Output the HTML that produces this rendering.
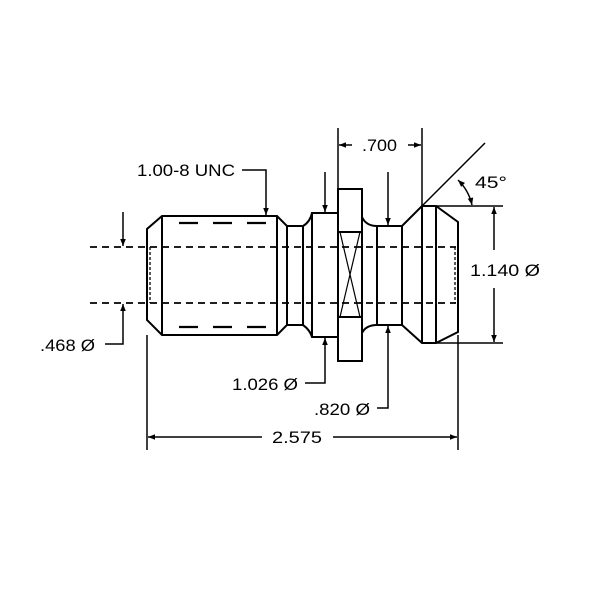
<!DOCTYPE html>
<html><head><style>body{margin:0;background:#fff}svg{display:block}text{font-family:"Liberation Sans",Arial,sans-serif;font-size:17px;fill:#000}</style></head><body>
<svg width="600" height="600" viewBox="0 0 600 600" xmlns="http://www.w3.org/2000/svg">
<defs><marker id="a" viewBox="0 0 10 10" refX="10" refY="5" markerWidth="9" markerHeight="7" orient="auto-start-reverse" markerUnits="userSpaceOnUse"><path d="M0,1L10,5L0,9z" fill="#000"/></marker></defs>
<g fill="none" stroke="#000" stroke-width="2">
<path d="M162,216 H277 L287,226 V325 L277,335 H162 L147,320 V229 Z"/>
<line x1="162" y1="216" x2="162" y2="335"/>
<line x1="277" y1="216" x2="277" y2="335"/>
<path d="M287,226 H303 V325 H287"/>
<path d="M303,226 Q310,222 312,213 H338 V337 H312 Q310,330 303,325"/>
<line x1="312" y1="213" x2="312" y2="337"/>
<rect x="338" y="189" width="24" height="172"/>
<line x1="338" y1="232" x2="362" y2="232"/>
<line x1="338" y1="317" x2="362" y2="317"/>
<path d="M362,217 Q366,226 377,226 H402 L422,206 H436 L458,222 V332 L436,343 H422 L402,325 H377 Q366,325 362,333"/>
<line x1="377" y1="226" x2="377" y2="325"/>
<line x1="402" y1="226" x2="402" y2="325"/>
<line x1="422" y1="206" x2="422" y2="343"/>
<line x1="436" y1="206" x2="436" y2="343"/>
</g>
<g fill="none" stroke="#000" stroke-width="1.2">
<line x1="340" y1="232" x2="360" y2="317"/><line x1="360" y1="232" x2="340" y2="317"/>
</g>
<g stroke="#000" stroke-width="1.8" stroke-dasharray="7,5">
<line x1="90" y1="247" x2="456" y2="247"/>
<line x1="90" y1="303" x2="456" y2="303"/>
</g>
<g stroke="#000" stroke-width="1.3" stroke-dasharray="3,2">
<line x1="150" y1="247" x2="150" y2="303"/>
<line x1="455" y1="247" x2="455" y2="303"/>
</g>
<g stroke="#000" stroke-width="2.2">
<line x1="179" y1="223" x2="198" y2="223"/><line x1="213" y1="223" x2="232" y2="223"/><line x1="247" y1="223" x2="266" y2="223"/>
<line x1="179" y1="327" x2="198" y2="327"/><line x1="213" y1="327" x2="232" y2="327"/><line x1="247" y1="327" x2="266" y2="327"/>
</g>
<g fill="none" stroke="#000" stroke-width="1.5">
<polyline points="242,170 266,170 266,215" marker-end="url(#a)"/>
<line x1="325" y1="172" x2="325" y2="212" marker-end="url(#a)"/>
<line x1="123" y1="212" x2="123" y2="246" marker-end="url(#a)"/>
<polyline points="105,344 123,344 123,304" marker-end="url(#a)"/>
<polyline points="305,383 325,383 325,338" marker-end="url(#a)"/>
<polyline points="377,408 388,408 388,326" marker-end="url(#a)"/>
<line x1="388" y1="172" x2="388" y2="225" marker-end="url(#a)"/>
<line x1="147" y1="335" x2="147" y2="450"/>
<line x1="458" y1="335" x2="458" y2="450"/>
<line x1="262" y1="437" x2="148" y2="437" marker-end="url(#a)"/>
<line x1="333" y1="437" x2="457" y2="437" marker-end="url(#a)"/>
<line x1="338" y1="128" x2="338" y2="189"/>
<line x1="422" y1="128" x2="422" y2="206"/>
<line x1="352" y1="145" x2="339" y2="145" marker-end="url(#a)"/>
<line x1="408" y1="145" x2="421" y2="145" marker-end="url(#a)"/>
<line x1="422" y1="206" x2="485" y2="143"/>
<line x1="436" y1="206" x2="503" y2="206"/>
<line x1="436" y1="343" x2="503" y2="343"/>
<path d="M458,180 A50,50 0 0 1 472,205" marker-end="url(#a)" marker-start="url(#a)"/>
<line x1="494" y1="250" x2="494" y2="207" marker-end="url(#a)"/>
<line x1="494" y1="288" x2="494" y2="342" marker-end="url(#a)"/>
</g>
<text x="137" y="176" textLength="98" lengthAdjust="spacingAndGlyphs">1.00-8 UNC</text>
<text x="40" y="351" textLength="55" lengthAdjust="spacingAndGlyphs">.468 Ø</text>
<text x="232" y="390" textLength="66" lengthAdjust="spacingAndGlyphs">1.026 Ø</text>
<text x="314" y="415" textLength="56" lengthAdjust="spacingAndGlyphs">.820 Ø</text>
<text x="272" y="443" textLength="50" lengthAdjust="spacingAndGlyphs">2.575</text>
<text x="362" y="151" textLength="35" lengthAdjust="spacingAndGlyphs">.700</text>
<text x="475" y="188" textLength="32" lengthAdjust="spacingAndGlyphs">45°</text>
<text x="470" y="276" textLength="70" lengthAdjust="spacingAndGlyphs">1.140 Ø</text>
</svg>
</body></html>
